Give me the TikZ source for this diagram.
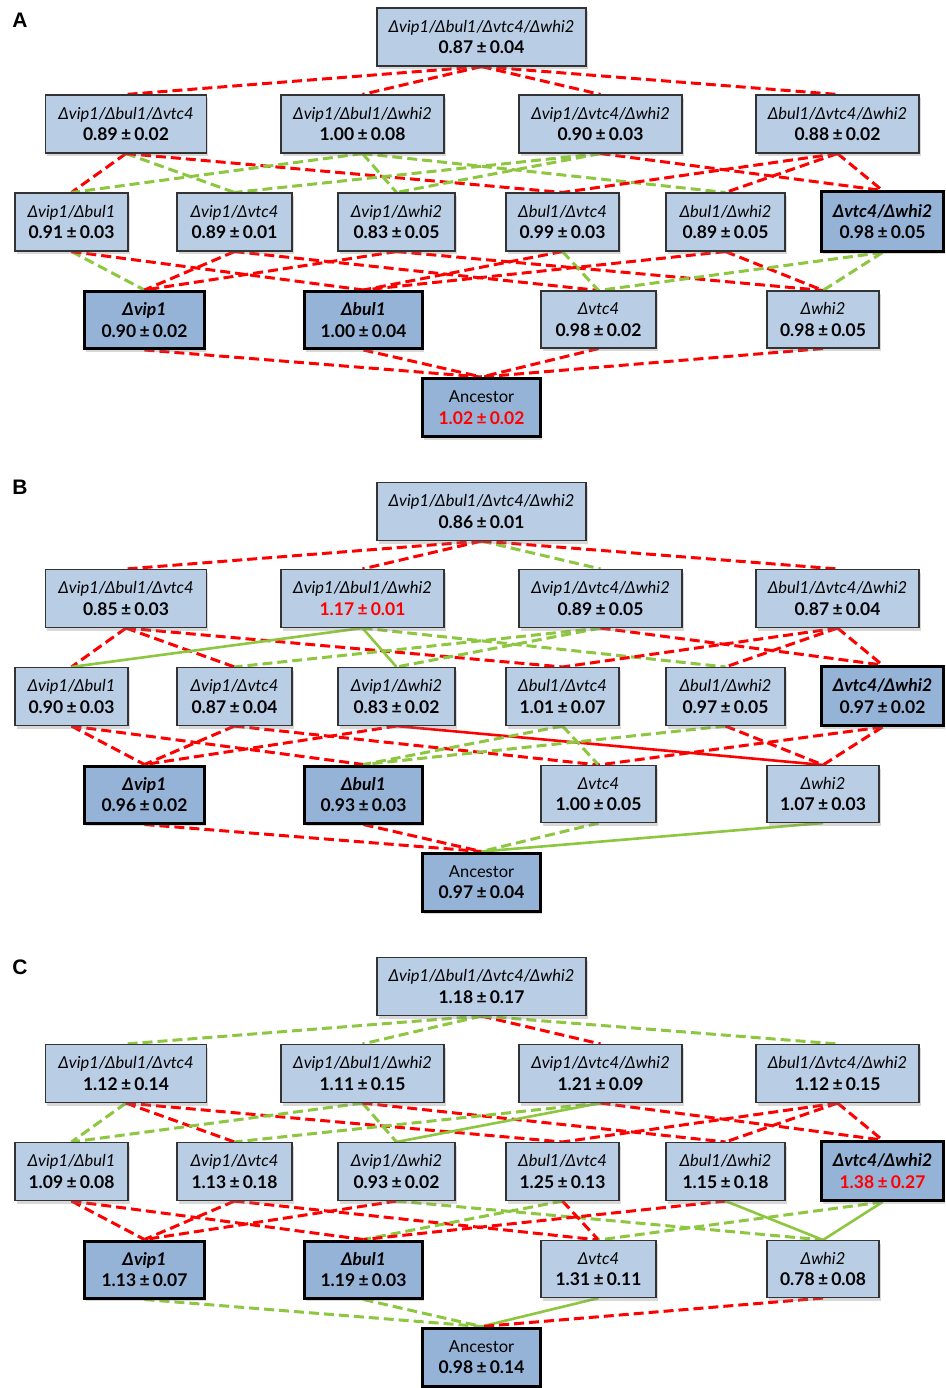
\documentclass[tikz,border=0pt]{standalone}
\usepackage{fontspec}
\setmainfont{Lato}
\newfontfamily\labfont{Liberation Sans}
\usetikzlibrary{shadows,backgrounds}
\pgfdeclarelayer{bg}
\pgfsetlayers{bg,background,main}
\definecolor{boxl}{HTML}{B9CDE5}
\definecolor{boxd}{HTML}{95B3D7}
\definecolor{lgreen}{HTML}{8DC63F}
\definecolor{lred}{HTML}{FF0000}
\tikzset{
  nb/.style={rectangle, draw=black!80, line width=1.1pt, fill=boxl, align=center, inner sep=0pt,
    font=\fontsize{16.5}{21.5}\selectfont,
    drop shadow={shadow xshift=1.5pt, shadow yshift=-3pt, opacity=0.3}},
  nk/.style={nb, fill=boxd, draw=black, line width=3pt},
  rd/.style={draw=lred, line width=3pt, dash pattern=on 10pt off 5pt},
  gd/.style={draw=lgreen, line width=3pt, dash pattern=on 10pt off 5pt},
  gs/.style={draw=lgreen, line width=2.6pt},
  rs/.style={draw=lred, line width=2.6pt},
  lab/.style={font=\labfont\bfseries\fontsize{21}{21}\selectfont, inner sep=0pt},
}
\newcommand\G[1]{{\itshape #1}}
\newcommand\GB[1]{{\bfseries\itshape\fontsize{17.5}{21.5}\selectfont #1}}
\newcommand\PM{\hspace{3.5pt}±\hspace{3pt}}
\newcommand\V[2]{{\bfseries\fontsize{17.5}{21.5}\selectfont #1\PM #2}}
\newcommand\VR[2]{{\bfseries\fontsize{17.5}{21.5}\selectfont\color{lred}#1\PM #2}}
% lattice of boxes, prefix #1
\newcommand\lattice[1]{%
  \node[nb, minimum width=209pt, minimum height=58pt] (#1Q) at (481.5,37) {\G{Δvip1/Δbul1/Δvtc4/Δwhi2}\\\vQ};
  \node[nb, minimum width=161pt, minimum height=58pt] (#1T1) at (126,124) {\G{Δvip1/Δbul1/Δvtc4}\\\vTa};
  \node[nb, minimum width=163pt, minimum height=58pt] (#1T2) at (362.5,124) {\G{Δvip1/Δbul1/Δwhi2}\\\vTb};
  \node[nb, minimum width=163pt, minimum height=58pt] (#1T3) at (600.5,124) {\G{Δvip1/Δvtc4/Δwhi2}\\\vTc};
  \node[nb, minimum width=163pt, minimum height=58pt] (#1T4) at (837.5,124) {\G{Δbul1/Δvtc4/Δwhi2}\\\vTd};
  \node[nb, minimum width=113pt, minimum height=58pt] (#1D1) at (71.5,222) {\G{Δvip1/Δbul1}\\\vDa};
  \node[nb, minimum width=115pt, minimum height=58pt] (#1D2) at (234.5,222) {\G{Δvip1/Δvtc4}\\\vDb};
  \node[nb, minimum width=117pt, minimum height=58pt] (#1D3) at (396.5,222) {\G{Δvip1/Δwhi2}\\\vDc};
  \node[nb, minimum width=113pt, minimum height=58pt] (#1D4) at (562.5,222) {\G{Δbul1/Δvtc4}\\\vDd};
  \node[nb, minimum width=119pt, minimum height=58pt] (#1D5) at (725.5,222) {\G{Δbul1/Δwhi2}\\\vDe};
  \node[nk, minimum width=122pt, minimum height=59pt] (#1D6) at (882.5,221.5) {\GB{Δvtc4/Δwhi2}\\\vDf};
  \node[nk, minimum width=120pt, minimum height=57pt] (#1S1) at (144.5,320) {\GB{Δvip1}\\\vSa};
  \node[nk, minimum width=118pt, minimum height=57pt] (#1S2) at (363.5,320) {\GB{Δbul1}\\\vSb};
  \node[nb, minimum width=115pt, minimum height=57pt] (#1S3) at (598.5,319.5) {\G{Δvtc4}\\\vSc};
  \node[nb, minimum width=112pt, minimum height=57pt] (#1S4) at (823,319.5) {\G{Δwhi2}\\\vSd};
  \node[nk, minimum width=118pt, minimum height=58pt] (#1A) at (481.5,407.5) {Ancestor\\\vA};
}
\begin{document}
\begin{tikzpicture}[x=1pt, y=-1pt]
\useasboundingbox (0,0) rectangle (945,1388);
\begin{pgfonlayer}{bg}
\fill[white] (0,0) rectangle (945,1388);
\end{pgfonlayer}

% ---------------- Panel A
\node[lab] (labA) at (20,20) {A};
\def\vQ{\V{0.87}{0.04}}
\def\vTa{\V{0.89}{0.02}}\def\vTb{\V{1.00}{0.08}}\def\vTc{\V{0.90}{0.03}}\def\vTd{\V{0.88}{0.02}}
\def\vDa{\V{0.91}{0.03}}\def\vDb{\V{0.89}{0.01}}\def\vDc{\V{0.83}{0.05}}\def\vDd{\V{0.99}{0.03}}\def\vDe{\V{0.89}{0.05}}\def\vDf{\V{0.98}{0.05}}
\def\vSa{\V{0.90}{0.02}}\def\vSb{\V{1.00}{0.04}}\def\vSc{\V{0.98}{0.02}}\def\vSd{\V{0.98}{0.05}}
\def\vA{\VR{1.02}{0.02}}
\lattice{a}

% ---------------- Panel B
\node[lab] (labB) at (20,487) {B};
\begin{scope}[yshift=-474.5pt]
\def\vQ{\V{0.86}{0.01}}
\def\vTa{\V{0.85}{0.03}}\def\vTb{\VR{1.17}{0.01}}\def\vTc{\V{0.89}{0.05}}\def\vTd{\V{0.87}{0.04}}
\def\vDa{\V{0.90}{0.03}}\def\vDb{\V{0.87}{0.04}}\def\vDc{\V{0.83}{0.02}}\def\vDd{\V{1.01}{0.07}}\def\vDe{\V{0.97}{0.05}}\def\vDf{\V{0.97}{0.02}}
\def\vSa{\V{0.96}{0.02}}\def\vSb{\V{0.93}{0.03}}\def\vSc{\V{1.00}{0.05}}\def\vSd{\V{1.07}{0.03}}
\def\vA{\V{0.97}{0.04}}
\lattice{b}
\end{scope}

% ---------------- Panel C
\node[lab] (labC) at (20,967) {C};
\begin{scope}[yshift=-949.5pt]
\def\vQ{\V{1.18}{0.17}}
\def\vTa{\V{1.12}{0.14}}\def\vTb{\V{1.11}{0.15}}\def\vTc{\V{1.21}{0.09}}\def\vTd{\V{1.12}{0.15}}
\def\vDa{\V{1.09}{0.08}}\def\vDb{\V{1.13}{0.18}}\def\vDc{\V{0.93}{0.02}}\def\vDd{\V{1.25}{0.13}}\def\vDe{\V{1.15}{0.18}}\def\vDf{\VR{1.38}{0.27}}
\def\vSa{\V{1.13}{0.07}}\def\vSb{\V{1.19}{0.03}}\def\vSc{\V{1.31}{0.11}}\def\vSd{\V{0.78}{0.08}}
\def\vA{\V{0.98}{0.14}}
\lattice{c}
\end{scope}

\begin{pgfonlayer}{background}
% Panel A edges
\foreach \s/\u/\l in {rd/Q/T1, rd/Q/T2, rd/Q/T3, rd/Q/T4,
  rd/T1/D1, gd/T1/D2, rd/T1/D4, gd/T2/D1, gd/T2/D3, gd/T2/D5,
  gd/T3/D2, gd/T3/D3, rd/T3/D6, rd/T4/D4, rd/T4/D5, rd/T4/D6,
  gd/D1/S1, rd/D1/S2, rd/D2/S1, rd/D2/S3, rd/D3/S1, rd/D3/S4,
  rd/D4/S2, gd/D4/S3, rd/D5/S2, rd/D5/S4, gd/D6/S3, gd/D6/S4,
  rd/S1/A, rd/S2/A, rd/S3/A, rd/S4/A}
  \draw[\s] (a\u.south) -- (a\l.north);
% Panel B edges
\foreach \s/\u/\l in {rd/Q/T1, rd/Q/T2, gd/Q/T3, rd/Q/T4,
  rd/T1/D1, rd/T1/D2, rd/T1/D4, gs/T2/D1, gs/T2/D3, gd/T2/D5,
  gd/T3/D2, gd/T3/D3, rd/T3/D6, rd/T4/D4, rd/T4/D5, rd/T4/D6,
  rd/D1/S1, rd/D1/S2, rd/D2/S1, rd/D2/S3, rd/D3/S1, rs/D3/S4,
  gd/D4/S2, gd/D4/S3, gd/D5/S2, rd/D5/S4, rd/D6/S3, rd/D6/S4,
  rd/S1/A, rd/S2/A, gd/S3/A, gs/S4/A}
  \draw[\s] (b\u.south) -- (b\l.north);
% Panel C edges
\foreach \s/\u/\l in {gd/Q/T1, gd/Q/T2, rd/Q/T3, gd/Q/T4,
  gd/T1/D1, rd/T1/D2, rd/T1/D4, gd/T2/D1, gd/T2/D3, rd/T2/D5,
  gd/T3/D2, gs/T3/D3, rd/T3/D6, rd/T4/D4, rd/T4/D5, rd/T4/D6,
  rd/D1/S1, rd/D1/S2, rd/D2/S1, rd/D2/S3, rd/D3/S1, gd/D3/S4,
  gd/D4/S2, rd/D4/S3, rd/D5/S2, gs/D5/S4, gd/D6/S3, gs/D6/S4,
  gd/S1/A, gd/S2/A, gs/S3/A, rd/S4/A}
  \draw[\s] (c\u.south) -- (c\l.north);
\end{pgfonlayer}
\end{tikzpicture}
\end{document}
